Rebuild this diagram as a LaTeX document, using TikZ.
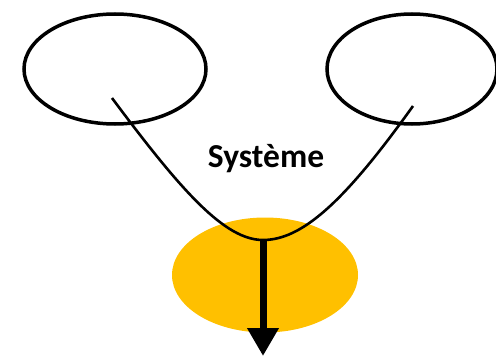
\documentclass[tikz,border=0pt]{standalone}
\usepackage{fontspec}
\newfontfamily\labelfont{Carlito}
\usetikzlibrary{arrows.meta, positioning, shapes.geometric}
\definecolor{gold}{RGB}{255,192,0}

\begin{document}
\begin{tikzpicture}[x=1pt, y=-1pt, loop/.style={draw, ellipse, line width=3.5pt, inner sep=0pt}]
				\useasboundingbox (0,0) rectangle (496,356);

				% Draw the system blob
				\node[ellipse, fill=gold, minimum width=186pt, minimum height=115pt, inner sep=0pt] (sys) at (265,275) {};

				% Draw the two loops
				\node[loop, minimum width=182pt, minimum height=110pt] (left) at (115,69) {};
				\node[loop, minimum width=170pt, minimum height=110pt] (right) at (412,69) {};

				\node[font=\labelfont\bfseries\fontsize{33.5}{36}\selectfont] (name) at (266,159) {Système};

				% Draw the curve between the loops
				\coordinate (l end) at (112,98);
				\coordinate (r end) at (413,106);
				\coordinate (bottom) at (263,240);
				\coordinate (out) at (263,356);
				\draw[-, line width=2.6pt] (l end) .. controls (182,192) and (225,240) .. (bottom)
					.. controls (301,240) and (343,204) .. (r end);

				% Draw the output arrow
				\draw[-{Triangle[width=30pt, length=28pt]}, line width=7pt] (bottom) -- (out);
			\end{tikzpicture}
\end{document}
